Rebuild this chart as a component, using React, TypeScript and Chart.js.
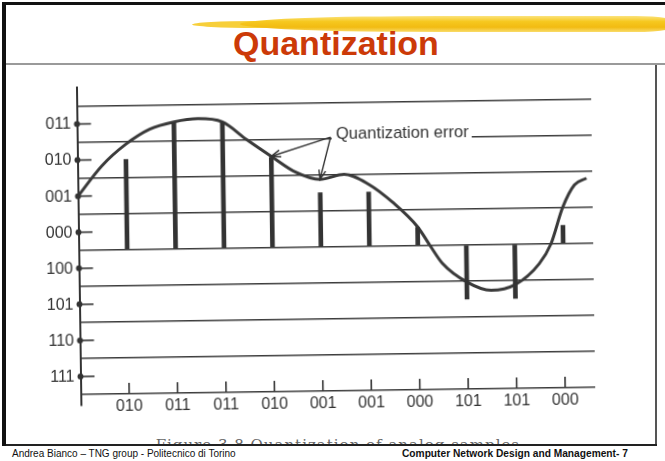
import React, { useEffect, useRef } from "react";
import { Chart, registerables } from "chart.js";

Chart.register(...registerables);

// ---- data ----
const sampleTimes = [1, 2, 3, 4, 5, 6, 7, 8, 9, 10];
const sampleLevels = [2.5, 3.5, 3.5, 2.5, 1.5, 1.5, 0.5, -1.5, -1.5, 0.5];
const sampleCodes = ["010", "011", "011", "010", "001", "001", "000", "101", "101", "000"];

const levelCenters = [3.5, 2.5, 1.5, 0.5, -0.5, -1.5, -2.5, -3.5];
const levelCodes = ["011", "010", "001", "000", "100", "101", "110", "111"];
const levelBoundaries = [-4, -3, -2, -1, 0, 1, 2, 3, 4];

const curveTimes = [0, 0.5, 1, 1.5, 2, 2.5, 3, 3.5, 4, 4.5, 5, 5.5, 6, 6.5, 7, 7.25, 7.5, 8, 8.5, 9, 9.5, 9.75, 10, 10.25, 10.5];
const curveValues = [1.5, 2.33, 2.92, 3.33, 3.52, 3.6, 3.5, 3.0, 2.53, 2.08, 1.87, 2.0, 1.72, 1.2, 0.52, 0, -0.5, -1.03, -1.27, -1.12, -0.55, 0, 1.0, 1.62, 1.8];

const annotationText = "Quantization error";
const annotationOrigin = { x: 5.23, y: 3.04 };
const annotationLabel = { x: 5.34, y: 3.12 };
const annotationTargets = [4, 5];

const timeRange = [0, 10.62];
const valueRange = [-4.29, 4.5];

const INK = "#333333";
const FONT = "'Liberation Sans', Arial, Helvetica, sans-serif";

function curveAt(t: number) {
  const i = curveTimes.indexOf(t);
  return curveValues[i];
}

const decorPlugin = {
  id: "decor",
  afterDatasetsDraw(chart: any) {
    const { ctx, scales } = chart;
    const x = scales.x;
    const y = scales.y;
    const ax = x.getPixelForValue(timeRange[0]);
    ctx.save();
    ctx.fillStyle = INK;
    ctx.strokeStyle = INK;

    // y-axis codes with dots and ticks
    ctx.font = `16px ${FONT}`;
    ctx.textAlign = "right";
    ctx.textBaseline = "middle";
    levelCenters.forEach((v, i) => {
      const py = y.getPixelForValue(v);
      ctx.beginPath();
      ctx.arc(ax, py, 3, 0, Math.PI * 2);
      ctx.fill();
      ctx.lineWidth = 1.6;
      ctx.beginPath();
      ctx.moveTo(ax, py);
      ctx.lineTo(ax + 14, py);
      ctx.stroke();
      ctx.fillText(levelCodes[i], ax - 6, py + 0.5);
    });

    // x-axis upward ticks and sample codes
    const by = y.getPixelForValue(levelBoundaries[0]);
    ctx.font = `16px ${FONT}`;
    ctx.textAlign = "center";
    ctx.textBaseline = "middle";
    sampleTimes.forEach((t, i) => {
      const px = x.getPixelForValue(t);
      ctx.lineWidth = 1.6;
      ctx.beginPath();
      ctx.moveTo(px, by);
      ctx.lineTo(px, by - 11);
      ctx.stroke();
      ctx.fillText(sampleCodes[i], px, by + 13);
    });

    // annotation
    ctx.font = `16.6px ${FONT}`;
    const lx = x.getPixelForValue(annotationLabel.x);
    const ly = y.getPixelForValue(annotationLabel.y);
    const w = ctx.measureText(annotationText).width;
    const ox = x.getPixelForValue(annotationOrigin.x);
    const oy = y.getPixelForValue(annotationOrigin.y);
    ctx.fillStyle = "#ffffff";
    ctx.fillRect(ox + 1, ly - 9, lx - ox + w + 2, 16);
    ctx.fillStyle = INK;
    ctx.textAlign = "left";
    ctx.fillText(annotationText, lx, ly);

    ctx.lineWidth = 1.4;
    annotationTargets.forEach((t) => {
      const tx = x.getPixelForValue(t);
      const ty = y.getPixelForValue(curveAt(t));
      ctx.beginPath();
      ctx.moveTo(ox, oy);
      ctx.lineTo(tx, ty);
      ctx.stroke();
      const ang = Math.atan2(ty - oy, tx - ox);
      const L = 10;
      ctx.beginPath();
      ctx.moveTo(tx - L * Math.cos(ang - 0.35), ty - L * Math.sin(ang - 0.35));
      ctx.lineTo(tx, ty);
      ctx.lineTo(tx - L * Math.cos(ang + 0.35), ty - L * Math.sin(ang + 0.35));
      ctx.stroke();
    });
    ctx.restore();
  },
};

function QuantChart() {
  const ref = useRef<HTMLCanvasElement | null>(null);
  useEffect(() => {
    if (!ref.current) return;
    const chart = new Chart(ref.current, {
      type: "bar",
      data: {
        datasets: [
          {
            type: "line",
            data: curveTimes.map((t, i) => ({ x: t, y: curveValues[i] })),
            borderColor: "#3a3a3a",
            borderWidth: 3,
            pointRadius: 0,
            cubicInterpolationMode: "monotone",
            fill: false,
            order: 1,
          } as any,
          {
            type: "bar",
            data: sampleTimes.map((t, i) => ({ x: t, y: sampleLevels[i] })),
            backgroundColor: "#333333",
            barThickness: 4,
            order: 0,
          } as any,
        ],
      },
      options: {
        animation: false,
        responsive: false,
        maintainAspectRatio: false,
        devicePixelRatio: 1,
        layout: { padding: { left: 78.5, right: 72, top: 84.4, bottom: 59.5 } },
        plugins: { legend: { display: false }, tooltip: { enabled: false }, title: { display: false } },
        scales: {
          x: {
            type: "linear",
            min: timeRange[0],
            max: timeRange[1],
            offset: false,
            display: false,
          },
          y: {
            type: "linear",
            min: valueRange[0],
            max: valueRange[1],
            display: true,
            afterBuildTicks: (scale: any) => {
              scale.ticks = levelBoundaries.map((v) => ({ value: v }));
            },
            ticks: { display: false },
            grid: { color: "#3c3c3c", lineWidth: 1.6, drawTicks: false },
            border: { display: true, color: "#333333", width: 2 },
          },
        },
      } as any,
      plugins: [decorPlugin],
    });
    return () => chart.destroy();
  }, []);
  return (
    <canvas
      ref={ref}
      width={665}
      height={461}
      style={{ position: "absolute", left: 0, top: 0, width: 665, height: 461, transform: "rotate(-0.8deg)" }}
    />
  );
}

export default function App() {
  return (
    <div
      style={{
        position: "fixed",
        left: 0,
        top: 0,
        width: 665,
        height: 461,
        background: "#ffffff",
        overflow: "hidden",
        fontFamily: FONT,
      }}
    >
      {/* yellow brush stroke */}
      <div style={{ position: "absolute", left: 192, top: 21, width: 130, height: 7, borderRadius: "50%", background: "#f7cf3a", filter: "blur(0.7px)" }} />
      <div style={{ position: "absolute", left: 240, top: 16, width: 440, height: 16, borderRadius: "45% 10% 10% 45% / 50%", background: "linear-gradient(180deg,#fbe37c 0%,#f6c81f 35%,#f2bb12 70%,#f9dc6a 100%)", filter: "blur(0.7px)" }} />
      {/* frame */}
      <div style={{ position: "absolute", left: 2, top: 2, width: 663, height: 3, background: "#111" }} />
      <div style={{ position: "absolute", left: 2, top: 2, width: 4, height: 444, background: "#111" }} />
      <div style={{ position: "absolute", left: 6, top: 63, width: 659, height: 2, background: "#9a9a9a" }} />
      <div style={{ position: "absolute", left: 655, top: 65, width: 1.5, height: 380, background: "#555" }} />
      {/* title */}
      <div style={{ position: "absolute", left: 233, top: 26, fontSize: 34, lineHeight: "34px", fontWeight: "bold", color: "#cc3a08", whiteSpace: "nowrap" }}>
        Quantization
      </div>
      {/* clipped caption of the scanned figure */}
      <div style={{ position: "absolute", left: 100, top: 437, width: 420, height: 7, overflow: "hidden" }}>
        <div style={{ position: "absolute", right: 0, top: 1, fontFamily: "'DejaVu Serif', 'Liberation Serif', serif", fontSize: 15, lineHeight: "15px", letterSpacing: 1, color: "#666", whiteSpace: "nowrap" }}>
          Figure 3.8  Quantization of analog samples
        </div>
      </div>
      <div style={{ position: "absolute", left: 6, top: 444, width: 651, height: 2, background: "#222" }} />
      {/* footer */}
      <div style={{ position: "absolute", left: 12, top: 449, fontSize: 10, lineHeight: "10px", color: "#111", whiteSpace: "nowrap" }}>
        Andrea Bianco – TNG group - Politecnico di Torino
      </div>
      <div style={{ position: "absolute", left: 402, top: 449, fontSize: 10.2, lineHeight: "10px", fontWeight: "bold", color: "#111", whiteSpace: "nowrap" }}>
        Computer Network Design and Management- 7
      </div>
      <QuantChart />
    </div>
  );
}
